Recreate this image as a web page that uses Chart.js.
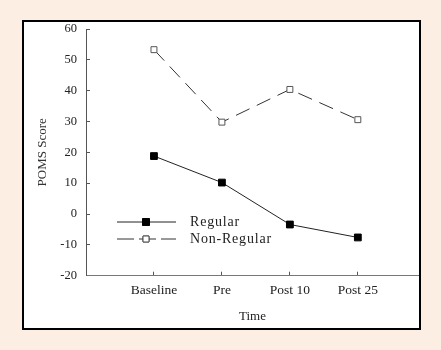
<!DOCTYPE html>
<html lang="en">
<head>
  <meta charset="UTF-8">
  <title>POMS Score</title>
  <script src="https://cdn.jsdelivr.net/npm/chart.js"></script>
  <style>
    html, body { margin: 0; padding: 0; }
    body {
      width: 441px;
      height: 350px;
      background: #fdeee4;
      position: relative;
      overflow: hidden;
    }
    .frame {
      position: absolute;
      left: 22px;
      top: 20px;
      width: 399px;
      height: 310px;
      box-sizing: border-box;
      border: 2px solid #000;
      background: #fff;
    }
    .frame canvas { display: block; }
  </style>
</head>
<body>
  <div class="frame">
    <canvas id="chart" width="395" height="306"></canvas>
  </div>

  <script>
    // data
    const categories = ['Baseline', 'Pre', 'Post 10', 'Post 25'];
    const regular = [18.8, 10.2, -3.4, -7.6];
    const nonRegular = [53.3, 29.8, 40.4, 30.6];
    const yTicks = [60, 50, 40, 30, 20, 10, 0, -10, -20];

    const serif = "'Liberation Serif', 'DejaVu Serif', serif";

    function toPoints(values) {
      return values.map((v, i) => ({ x: i + 1, y: v }));
    }

    // legend sits inside the plot area, like the original figure
    const insideLegend = {
      id: 'insideLegend',
      afterDraw(chart) {
        const ctx = chart.ctx;
        const rows = [
          { y: 200, ds: chart.data.datasets[0] },
          { y: 217, ds: chart.data.datasets[1] }
        ];
        ctx.save();
        rows.forEach(row => {
          const ds = row.ds;
          ctx.beginPath();
          ctx.strokeStyle = ds.borderColor;
          ctx.lineWidth = 1;
          ctx.setLineDash(ds.borderDash && ds.borderDash.length ? [17, 5] : []);
          ctx.moveTo(93, row.y);
          ctx.lineTo(152, row.y);
          ctx.stroke();
          ctx.setLineDash([]);
          Chart.helpers.drawPoint(ctx, {
            pointStyle: 'rect',
            radius: ds.pointRadius,
            borderWidth: ds.pointBorderWidth
          }, 122, row.y);
          ctx.fillStyle = ds.pointBackgroundColor;
          ctx.strokeStyle = ds.pointBorderColor;
          ctx.lineWidth = ds.pointBorderWidth;
          ctx.fill();
          ctx.stroke();

          ctx.fillStyle = '#222';
          ctx.font = '14px ' + serif;
          ctx.letterSpacing = '0.8px';
          ctx.textBaseline = 'middle';
          ctx.textAlign = 'left';
          ctx.fillText(ds.label, 166, row.y);
        });
        ctx.restore();
      }
    };

    new Chart(document.getElementById('chart'), {
      type: 'line',
      data: {
        datasets: [
          {
            label: 'Regular',
            data: toPoints(regular),
            borderColor: '#222',
            borderWidth: 1,
            pointStyle: 'rect',
            pointRadius: 4.8,
            pointBackgroundColor: '#000',
            pointBorderColor: '#000',
            pointBorderWidth: 1,
            tension: 0
          },
          {
            label: 'Non-Regular',
            data: toPoints(nonRegular),
            borderColor: '#333',
            borderWidth: 1,
            borderDash: [15, 8],
            pointStyle: 'rect',
            pointRadius: 4.2,
            pointBackgroundColor: '#fff',
            pointBorderColor: '#555',
            pointBorderWidth: 1,
            tension: 0
          }
        ]
      },
      options: {
        responsive: false,
        animation: false,
        layout: { autoPadding: false, padding: { top: 7, right: 0, left: 0, bottom: 0 } },
        plugins: {
          legend: { display: false },
          tooltip: { enabled: false }
        },
        scales: {
          x: {
            type: 'linear',
            min: 0,
            max: 4.9,
            afterFit(scale) { scale.height = 52.3; scale.paddingRight = 0; scale.paddingLeft = 0; },
            afterBuildTicks(scale) {
              scale.ticks = categories.map((c, i) => ({ value: i + 1 }));
            },
            ticks: {
              color: '#222',
              font: { family: serif, size: 13.5 },
              padding: 11,
              maxRotation: 0,
              autoSkip: false,
              callback: v => categories[v - 1]
            },
            grid: {
              drawOnChartArea: false,
              tickLength: -4,
              color: '#555'
            },
            border: { color: '#777', width: 1 },
            title: {
              display: true,
              text: 'Time',
              color: '#222',
              font: { family: serif, size: 13 },
              padding: { top: 0, bottom: 4 }
            }
          },
          y: {
            min: -20,
            max: 60,
            afterFit(scale) { scale.width = 62; scale.paddingTop = 0; scale.paddingBottom = 0; },
            afterBuildTicks(scale) {
              scale.ticks = yTicks.map(v => ({ value: v }));
            },
            ticks: {
              color: '#222',
              font: { family: serif, size: 12.5 },
              padding: 13
            },
            grid: {
              drawOnChartArea: false,
              tickLength: -4,
              color: '#555'
            },
            border: { color: '#555', width: 1 },
            title: {
              display: true,
              text: 'POMS Score',
              color: '#333',
              font: { family: serif, size: 13 },
              padding: { top: 11, bottom: 0 }
            }
          }
        }
      },
      plugins: [insideLegend]
    });
  </script>
</body>
</html>
